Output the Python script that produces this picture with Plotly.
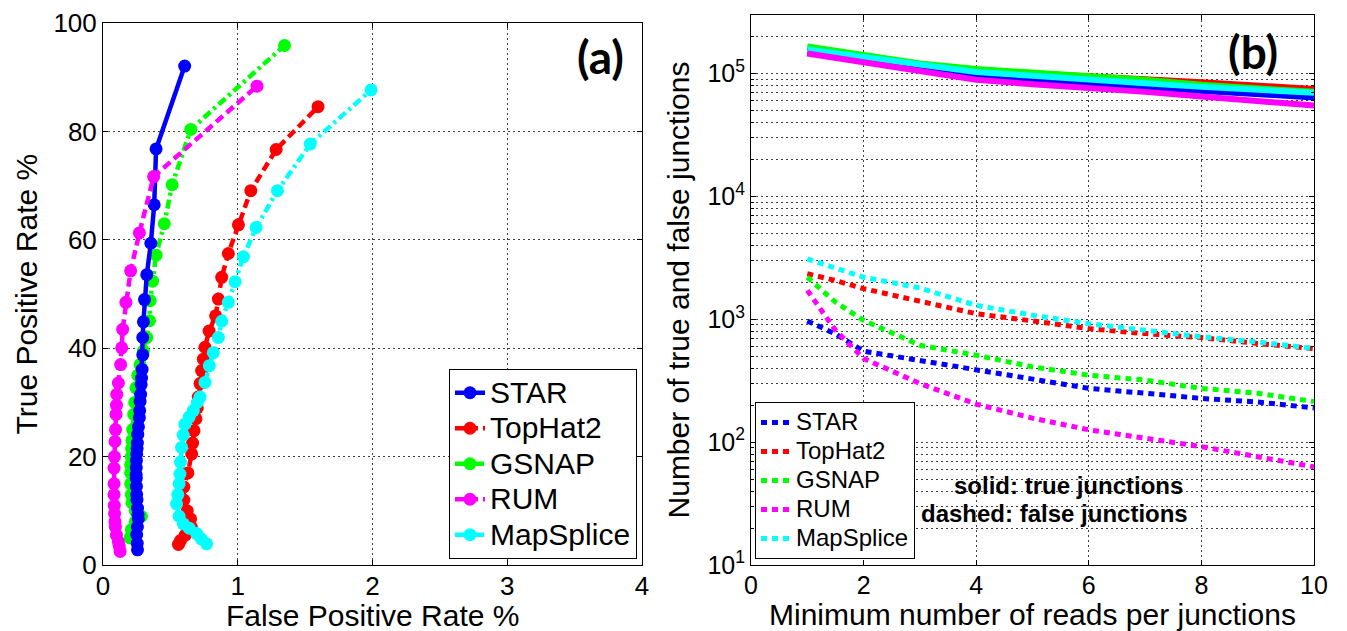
import plotly.graph_objects as go

# ---------------- Panel (a): ROC-like curves ----------------
star_fpr = [0.256, 0.254, 0.25, 0.255, 0.262, 0.26, 0.256, 0.252, 0.25, 0.248, 0.247, 0.246, 0.247, 0.248,
            0.25, 0.253, 0.255, 0.258, 0.263, 0.27, 0.272, 0.275, 0.279, 0.283, 0.286, 0.29, 0.295, 0.295,
            0.300, 0.308, 0.325, 0.355, 0.38, 0.394, 0.606]
star_tpr = [2.8, 4, 5.6, 7, 8.5, 9.3, 10.5, 12, 13, 14.5, 16, 16.7, 18, 19.3, 20.5, 21.5, 22.5, 24.1, 25.5,
            27.2, 28.5, 30.2, 31.5, 33.3, 34.5, 36.1, 38.8, 42.0, 44.9, 49.0, 53.6, 59.4, 66.5, 76.8, 92.1]

tophat_fpr = [0.56, 0.575, 0.61, 0.655, 0.65, 0.625, 0.6, 0.6, 0.63, 0.658, 0.665, 0.675, 0.69, 0.7, 0.707,
              0.72, 0.732, 0.745, 0.757, 0.787, 0.836, 0.856, 0.881, 0.93, 1.005, 1.097, 1.285, 1.596]
tophat_tpr = [3.8, 4.5, 5.5, 7, 8.5, 10, 12, 14.4, 17, 20.5, 22.5, 24.8, 27, 29, 31, 33.5, 35.9, 38, 40.2,
              43.2, 46.0, 49.1, 53.1, 57.5, 62.8, 69.1, 76.7, 84.6]

gsnap_fpr = [0.2, 0.21, 0.24, 0.285, 0.24, 0.215, 0.21, 0.205, 0.205, 0.205, 0.21, 0.212, 0.215, 0.22, 0.228,
             0.235, 0.245, 0.258, 0.275, 0.3, 0.325, 0.345, 0.35, 0.368, 0.394, 0.455, 0.513, 0.651, 1.347]
gsnap_tpr = [5, 6.5, 8, 9, 10, 11.5, 13, 15, 17, 18.5, 20, 21.5, 23, 25, 27.8, 30, 32.7, 35, 37, 39.5, 42,
             45.1, 48.8, 52.4, 57.2, 63.0, 70.2, 80.4, 95.9]

rum_fpr = [0.127, 0.12, 0.114, 0.1, 0.092, 0.089, 0.086, 0.084, 0.082, 0.082, 0.082, 0.085, 0.089, 0.093,
           0.097, 0.1, 0.102, 0.114, 0.131, 0.139, 0.146, 0.17, 0.205, 0.27, 0.376, 1.143]
rum_tpr = [2.5, 3.5, 4.3, 5.5, 7, 8, 9.5, 11, 13, 15, 17.9, 20, 22.8, 25, 27.8, 29.5, 31.5, 33.6, 37, 40.1,
           43.5, 48.5, 54.3, 61.3, 71.7, 88.4]

mapsplice_fpr = [0.769, 0.73, 0.695, 0.64, 0.596, 0.565, 0.546, 0.555, 0.565, 0.571, 0.575, 0.583, 0.595,
                 0.608, 0.64, 0.67, 0.7, 0.72, 0.757, 0.789, 0.819, 0.856, 0.881, 0.93, 0.98, 1.042, 1.136,
                 1.295, 1.538, 1.989]
mapsplice_tpr = [3.9, 4.8, 5.8, 6.8, 7.6, 9, 11.3, 13, 15, 16.8, 19, 21.7, 24, 26, 27.3, 28.5, 30, 31, 33.7,
                 36.8, 39.2, 42, 45, 48.5, 52.3, 56.9, 62.3, 69.1, 77.7, 87.7]

# ---------------- Panel (b): junction counts ----------------
min_reads_true = [1, 2, 3, 4, 5, 6, 7, 8, 9, 10]
star_true = [153000, 131000, 110000, 96000, 89000, 84000, 77000, 72000, 68000, 64000]
tophat_true = [151000, 133000, 118000, 106000, 100000, 96000, 90000, 85000, 79000, 75000]
gsnap_true = [166000, 142000, 121000, 109000, 102000, 96000, 89000, 81000, 76000, 71000]
rum_true = [146000, 124000, 104000, 89000, 82000, 77000, 71000, 65000, 59000, 55000]
mapsplice_true = [157000, 137000, 118000, 103000, 96000, 90500, 83500, 78000, 74000, 70000]

min_reads_false = [1, 1.5, 2, 3, 4, 5, 6, 7, 8, 9, 10]
star_false = [970, 760, 550, 460, 386, 320, 274, 250, 227, 212, 190]
tophat_false = [2350, 2070, 1775, 1390, 1110, 970, 840, 765, 710, 636, 578]
gsnap_false = [2200, 1380, 980, 615, 510, 410, 351, 320, 274, 250, 214]
rum_false = [1720, 815, 480, 300, 204, 157, 126, 107, 92, 76, 63]
mapsplice_false = [3100, 2600, 2200, 1800, 1300, 1080, 920, 815, 720, 655, 578]

names = ["STAR", "TopHat2", "GSNAP", "RUM", "MapSplice"]
colors = ["#0000FF", "#FF0000", "#00FF00", "#FF00FF", "#00FFFF"]
dashes_a = ["solid", "9px,5px", "9px,4px,3px,4px", "9px,5px", "9px,4px,3px,4px"]

y_tick_vals_b = [10, 100, 1000, 10000, 100000]
y_tick_text_b = ["10<sup>1</sup>", "10<sup>2</sup>", "10<sup>3</sup>", "10<sup>4</sup>", "10<sup>5</sup>"]

FONT = "Arial, Liberation Sans, sans-serif"
GRID = "#404040"
GDASH = "2px,3px"


def big(name, px):
    return '<span style="font-size:%dpx">%s</span>' % (px, name)


fig = go.Figure()

a_fpr = [star_fpr, tophat_fpr, gsnap_fpr, rum_fpr, mapsplice_fpr]
a_tpr = [star_tpr, tophat_tpr, gsnap_tpr, rum_tpr, mapsplice_tpr]
draw_order_a = [2, 0, 1, 3, 4]
for i in draw_order_a:
    fig.add_trace(go.Scatter(
        x=a_fpr[i], y=a_tpr[i], mode="lines+markers", name=big(names[i], 30),
        line=dict(color=colors[i], width=4.5, dash=dashes_a[i]),
        marker=dict(color=colors[i], size=13, symbol="circle"),
        xaxis="x", yaxis="y", legend="legend", legendrank=i + 1,
    ))

b_true = [star_true, tophat_true, gsnap_true, rum_true, mapsplice_true]
b_false = [star_false, tophat_false, gsnap_false, rum_false, mapsplice_false]
for i in [1, 2, 0, 4, 3]:
    fig.add_trace(go.Scatter(
        x=min_reads_true, y=b_true[i], mode="lines", name=names[i] + " true",
        line=dict(color=colors[i], width=6), showlegend=False,
        xaxis="x2", yaxis="y2",
    ))
for i in range(5):
    fig.add_trace(go.Scatter(
        x=min_reads_false, y=b_false[i], mode="lines", name=big(names[i], 24),
        line=dict(color=colors[i], width=5, dash="6px,5px"),
        xaxis="x2", yaxis="y2", legend="legend2", legendrank=i + 1,
    ))

minor_vals = [k * 10 ** d for d in range(1, 6) for k in range(2, 10) if k * 10 ** d <= 300000]

common_axis = dict(showline=True, linecolor="black", linewidth=1, mirror="ticks",
                   ticks="inside", ticklen=5, tickcolor="black", automargin=False,
                   showgrid=True, gridcolor=GRID, gridwidth=1, griddash=GDASH,
                   zeroline=False)

fig.update_layout(
    width=1347, height=631,
    margin=dict(l=0, r=0, t=0, b=0),
    paper_bgcolor="white", plot_bgcolor="white",
    font=dict(family=FONT, color="black"),
    xaxis=dict(domain=[103 / 1347, 642 / 1347], range=[0, 4], dtick=1, tick0=0,
               tickfont=dict(size=26), anchor="y", ticklabelstandoff=-2, **common_axis),
    yaxis=dict(domain=[66 / 631, 607.7 / 631], range=[0, 100], dtick=20, tick0=0,
               tickfont=dict(size=26), anchor="x",
               title=dict(text="True Positive Rate %", font=dict(size=30), standoff=6),
               **common_axis),
    xaxis2=dict(domain=[751 / 1347, 1314 / 1347], range=[0, 10], dtick=2, tick0=0,
                tickfont=dict(size=25), anchor="y2", ticklabelstandoff=-2, **common_axis),
    yaxis2=dict(domain=[66 / 631, 616 / 631], type="log", range=[1, 5.4771],
                tickmode="array", tickvals=y_tick_vals_b, ticktext=y_tick_text_b,
                tickfont=dict(size=25), anchor="x2",
                title=dict(text="Number of true and false junctions", font=dict(size=30), standoff=8),
                minor=dict(tickmode="array", tickvals=minor_vals, showgrid=True, gridcolor=GRID,
                           griddash=GDASH, gridwidth=1, ticks="inside", ticklen=3, tickcolor="black"),
                **common_axis),
    legend=dict(x=637 / 1347, xanchor="right", y=72 / 631, yanchor="bottom",
                bgcolor="white", bordercolor="black", borderwidth=1,
                font=dict(family=FONT, size=25), tracegroupgap=0, itemwidth=30),
    legend2=dict(x=755 / 1347, xanchor="left", y=72 / 631, yanchor="bottom",
                 bgcolor="white", bordercolor="black", borderwidth=1,
                 font=dict(family=FONT, size=20), tracegroupgap=0, itemwidth=30),
    annotations=[
        dict(text="False Positive Rate %", x=372.5 / 1347, y=(631 - 615) / 631, xref="paper", yref="paper",
             xanchor="center", yanchor="middle", showarrow=False, font=dict(family=FONT, size=30)),
        dict(text="Minimum number of reads per junctions", x=1032 / 1347, y=(631 - 614) / 631,
             xref="paper", yref="paper", xanchor="center", yanchor="middle", showarrow=False,
             font=dict(family=FONT, size=30)),
        dict(text="<b>(a)</b>", x=600 / 1347, y=(631 - 57) / 631, xref="paper", yref="paper",
             xanchor="center", yanchor="middle",
             showarrow=False, font=dict(family="Lato, Open Sans, sans-serif", size=46)),
        dict(text="<b>(b)</b>", x=1253 / 1347, y=(631 - 52) / 631, xref="paper", yref="paper",
             xanchor="center", yanchor="middle",
             showarrow=False, font=dict(family="Lato, Open Sans, sans-serif", size=46)),
        dict(text="<b>solid: true junctions</b>", x=1068 / 1347, y=(631 - 485) / 631,
             xref="paper", yref="paper", xanchor="center", yanchor="middle",
             showarrow=False, font=dict(family=FONT, size=24)),
        dict(text="<b>dashed: false junctions</b>", x=1054 / 1347, y=(631 - 513) / 631,
             xref="paper", yref="paper", xanchor="center", yanchor="middle",
             showarrow=False, font=dict(family=FONT, size=24)),
    ],
)

fig.write_html("out.html")
